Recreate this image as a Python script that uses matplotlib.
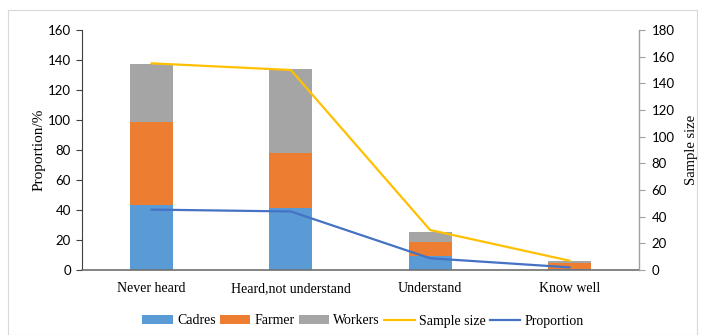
import matplotlib.pyplot as plt
from matplotlib.patches import Rectangle
import numpy as np

# values
categories = ["Never heard", "Heard,not understand", "Understand", "Know well"]
cadres = [43.3, 41.5, 9.3, 0.7]
farmer = [55.4, 36.5, 9.4, 4.0]
workers = [38.5, 56.0, 6.4, 1.3]
sample_size = [155, 150, 30, 7]
proportion = [45.3, 43.9, 8.8, 2.0]

serif = "Liberation Serif"
sans = "Lato"

fig = plt.figure(figsize=(7.05, 3.35), dpi=100)
fig.patches.append(Rectangle((8 / 705, 0), 689 / 705, 325 / 335, transform=fig.transFigure,
                             fill=False, edgecolor="#d9d9d9", linewidth=0.8))
ax = fig.add_axes([82 / 705, 65 / 335, 557 / 705, 240 / 335])
ax2 = ax.twinx()

x = np.arange(len(categories))
w = 0.31
b1 = ax.bar(x, cadres, w, color="#5B9BD5", label="Cadres")
b2 = ax.bar(x, farmer, w, bottom=cadres, color="#ED7D31", label="Farmer")
bottom3 = np.array(cadres) + np.array(farmer)
b3 = ax.bar(x, workers, w, bottom=bottom3, color="#A5A5A5", label="Workers")

l1, = ax2.plot(x, sample_size, color="#FFC000", linewidth=1.6, label="Sample size")
l2, = ax2.plot(x, proportion, color="#4472C4", linewidth=1.6, label="Proportion")

ax.set_xlim(-0.5, 3.5)
ax.set_ylim(0, 160)
ax.set_yticks(range(0, 161, 20))
ax2.set_ylim(0, 180)
ax2.set_yticks(range(0, 181, 20))

ax.set_xticks(x)
ax.set_xticklabels(categories, fontfamily=serif, fontsize=10)
ax.tick_params(axis="x", length=0, pad=9)
ax.tick_params(axis="y", length=4, width=0.8, color="#404040", labelsize=9.5, pad=4)
ax2.tick_params(axis="y", length=4, width=0.8, color="#a0a0a0", labelsize=9.5, pad=5)
for lab in ax.get_yticklabels() + ax2.get_yticklabels():
    lab.set_fontfamily(sans)

for a in (ax, ax2):
    a.spines["top"].set_visible(False)
ax.spines["left"].set_color("#404040")
ax.spines["bottom"].set_color("#707070")
ax.spines["bottom"].set_linewidth(1.2)
ax2.spines["right"].set_color("#a0a0a0")
ax2.spines["left"].set_visible(False)
ax2.spines["bottom"].set_visible(False)

ax.set_ylabel("Proportion/%", fontfamily=serif, fontsize=11)
ax2.set_ylabel("Sample size", fontfamily=serif, fontsize=10.5)
ax.yaxis.set_label_coords(-0.066, 0.5)
ax2.yaxis.set_label_coords(1.083, 0.5)

handles = [b1, b2, b3, l1, l2]
fig.legend(handles, [h.get_label() for h in handles], loc="center",
           bbox_to_anchor=(363 / 705, 1 - 321 / 335), ncol=5, frameon=False,
           prop={"family": serif, "size": 10}, handlelength=2.2, handleheight=0.6,
           columnspacing=0.3, handletextpad=0.3)

fig.savefig("out.png", dpi=100)
